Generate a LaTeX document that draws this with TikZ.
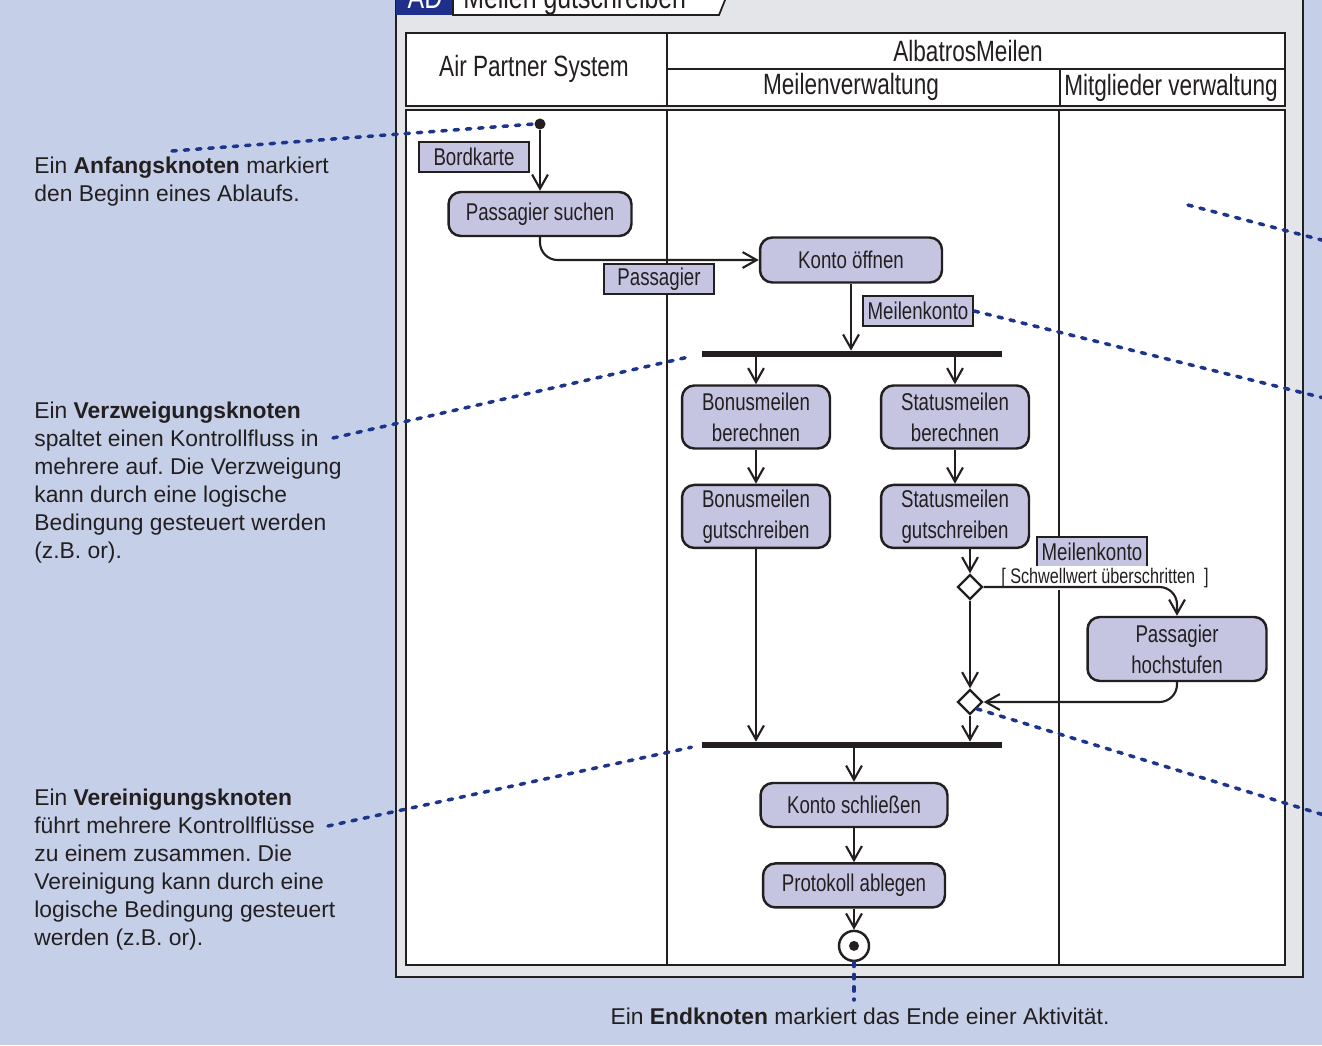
\documentclass[tikz,border=0pt]{standalone}
\usepackage{fontspec}
\setmainfont{Liberation Sans}
\newfontfamily\umlfont[FakeStretch=0.77]{Liberation Sans}
\usetikzlibrary{shapes.geometric, arrows.meta, positioning, calc}
\frenchspacing
\definecolor{bgblue}{RGB}{197,208,232}
\definecolor{framegray}{RGB}{228,229,232}
\definecolor{actfill}{RGB}{197,197,225}
\definecolor{linedark}{RGB}{35,31,32}
\definecolor{notenavy}{RGB}{28,52,140}
\definecolor{tabnavy}{RGB}{30,48,140}
\tikzset{
  actnode/.style={rectangle,rounded corners=7pt,draw=linedark,fill=actfill,line width=1.4pt,align=center,
    font=\umlfont\fontsize{13.8}{17.6}\selectfont,text=linedark,inner sep=2pt},
  objnode/.style={rectangle,draw=linedark,fill=actfill,line width=1.4pt,font=\umlfont\fontsize{13.8}{16}\selectfont,
    text=linedark,minimum width=2.2cm,minimum height=0.6cm,inner sep=1pt},
  barnode/.style={rectangle,fill=linedark,minimum width=6cm,minimum height=0.12cm,inner sep=0pt},
  decnode/.style={diamond,draw=linedark,fill=white,line width=1.3pt,minimum width=0.5cm,minimum height=0.5cm,inner sep=0pt},
  initnode/.style={circle,fill=linedark,minimum size=0.22cm,inner sep=0pt},
  finalnode/.style={circle,draw=linedark,fill=white,line width=1.4pt,minimum size=0.6cm,inner sep=0pt},
  lanehead/.style={font=\umlfont\fontsize{16.7}{20}\selectfont,text=linedark,inner sep=0pt},
  tabtitle/.style={font=\umlfont\fontsize{18.4}{22}\selectfont,text=linedark,inner sep=0pt},
  guardlabel/.style={font=\umlfont\fontsize{12}{14}\selectfont,text=linedark,fill=white,inner sep=1pt},
  notetext/.style={align=left,font=\fontsize{13}{15.9}\selectfont,text=linedark,inner sep=0pt},
  laneline/.style={draw=linedark,line width=0.9pt},
  flow/.style={-{Straight Barb[length=8pt,width=9pt]},line width=1.2pt,color=linedark},
  noteline/.style={draw=notenavy,line width=2pt,line cap=round,dash pattern=on 2.5pt off 4.5pt}
}

\begin{document}
\begin{tikzpicture}[x=0.02cm,y=-0.02cm,node distance=0.68cm and 1.0cm]
  \clip (0,0) rectangle (1322,1045);
  \fill[bgblue] (0,0) rectangle (1322,1045);

  % frame with title tab
  \draw[fill=framegray,draw=linedark,line width=1.3pt] (396,-20) rectangle (1303,977);
  \fill[tabnavy] (396,-20) rectangle (453,15);
  \draw[fill=white,draw=linedark,line width=1pt] (453,-20) -- (733,-20) -- (719,15) -- (453,15) -- cycle;
  \node[tabtitle,text=white,anchor=base] (adtext) at (425,8) {AD};
  \node[tabtitle,anchor=base west] (titletext) at (463,8) {Meilen gutschreiben};

  % swimlanes
  \draw[laneline,fill=white] (406,33) rectangle (1285,106);
  \draw[laneline] (667,33) -- (667,106);
  \draw[laneline] (667,69) -- (1285,69);
  \draw[laneline] (1060,69) -- (1060,106);
  \draw[laneline,fill=white] (406,110) rectangle (1285,965);
  \draw[laneline] (667,110) -- (667,965);
  \draw[laneline] (1059,110) -- (1059,965);
  \node[lanehead] (airpartner) at (534,69) {Air Partner System};
  \node[lanehead] (albatros) at (968,51) {AlbatrosMeilen};
  \node[lanehead] (meilenverw) at (851,87) {Meilenverwaltung};
  \node[lanehead] (mitglieder) at (1171,88) {Mitglieder verwaltung};

  \node[initnode] (init) at (540,124) {};
  \node[objnode] (bordkarte) at (474,157) {Bordkarte};
  \node[actnode,minimum width=3.66cm,minimum height=0.88cm] (suchen) at (540,214) {Passagier suchen};
  \node[actnode,minimum width=3.64cm,minimum height=0.9cm] (oeffnen) at (851,260) {Konto öffnen};
  \node[objnode] (passagier) at (659,279) {Passagier};
  \node[objnode] (konto) at (918,311) {Meilenkonto};
  \node[barnode] (fork) at (852,354) {};
  \node[actnode,minimum width=2.96cm,minimum height=1.26cm] (bberech) at (756,417) {Bonusmeilen\\berechnen};
  \node[actnode,minimum width=2.96cm,minimum height=1.26cm] (sberech) at (955,417) {Statusmeilen\\berechnen};
  \node[actnode,minimum width=2.96cm,minimum height=1.26cm,below=of bberech] (bgut) {Bonusmeilen\\gutschreiben};
  \node[actnode,minimum width=2.96cm,minimum height=1.26cm,below=of sberech] (sgut) {Statusmeilen\\gutschreiben};
  \node[objnode] (konto2) at (1092,552) {Meilenkonto};
  \node[decnode] (dec) at (970,587) {};
  \node[guardlabel] (guard) at (1105,578) {[ Schwellwert überschritten\ \ ]};
  \node[actnode,minimum width=3.58cm,minimum height=1.28cm] (hoch) at (1177,649) {Passagier\\hochstufen};
  \node[decnode] (merge) at (970,702) {};
  \node[barnode] (join) at (852,745) {};
  \node[actnode,minimum width=3.74cm,minimum height=0.88cm] (schliessen) at (854,805) {Konto schließen};
  \node[actnode,minimum width=3.64cm,minimum height=0.88cm,below=of schliessen] (protokoll) {Protokoll ablegen};
  \node[finalnode,below=0.42cm of protokoll] (final) {};
  \fill[linedark] (final.center) circle (0.1cm);

  \draw[flow] (init) -- (suchen);
  \draw[flow,rounded corners=10pt] (suchen.south) |- (oeffnen.west);
  \draw[flow] (oeffnen.south) -- (oeffnen.south |- fork.north);
  \draw[flow] (fork.south -| bberech.north) -- (bberech.north);
  \draw[flow] (fork.south -| sberech.north) -- (sberech.north);
  \draw[flow] (bberech) -- (bgut);
  \draw[flow] (sberech) -- (sgut);
  \draw[flow] (bgut.south) -- (bgut.south |- join.north);
  \draw[flow] (sgut.south -| dec.north) -- (dec.north);
  \draw[flow,rounded corners=10pt] (dec.east) -| (hoch.north);
  \draw[flow] (dec.south) -- (merge.north);
  \draw[flow,rounded corners=10pt] (hoch.south) |- (merge.east);
  \draw[flow] (merge.south) -- (merge.south |- join.north);
  \draw[flow] (schliessen.north |- join.south) -- (schliessen.north);
  \draw[flow] (schliessen) -- (protokoll);
  \draw[flow] (protokoll) -- (final);

  % notes
  \node[notetext,anchor=north west] (noteinit) at (34,157) {Ein \textbf{Anfangsknoten} markiert\\den Beginn eines Ablaufs.};
  \node[notetext,anchor=north west] (notefork) at (34,402) {Ein \textbf{Verzweigungsknoten}\\spaltet einen Kontrollfluss in\\mehrere auf. Die Verzweigung\\kann durch eine logische\\Bedingung gesteuert werden\\(z.B. or).};
  \node[notetext,anchor=north west] (notejoin) at (34,789) {Ein \textbf{Vereinigungsknoten}\\führt mehrere Kontrollflüsse\\zu einem zusammen. Die\\Vereinigung kann durch eine\\logische Bedingung gesteuert\\werden (z.B. or).};
  \node[notetext,anchor=base] (notefinal) at (860,1024) {Ein \textbf{Endknoten} markiert das Ende einer Aktivität.};

  \coordinate (initlead) at (172,151);
  \coordinate (forklead) at (333,438);
  \coordinate (joinlead) at (328,826);
  \coordinate (lanelead) at (1188,205);
  \coordinate (laneout) at (1360,250);
  \coordinate (kontoout) at (1360,407);
  \coordinate (mergeout) at (1360,826);
  \coordinate (finallead) at (854,1000);
  \draw[noteline] (initlead) -- (init.west);
  \draw[noteline,shorten >=6pt] (forklead) -- (fork.west);
  \draw[noteline,shorten >=6pt] (joinlead) -- (join.west);
  \draw[noteline] (lanelead) -- (laneout);
  \draw[noteline] (konto.east) -- (kontoout);
  \draw[noteline] (merge.south east) -- (mergeout);
  \draw[noteline] (final.south) -- (finallead);
\end{tikzpicture}
\end{document}
